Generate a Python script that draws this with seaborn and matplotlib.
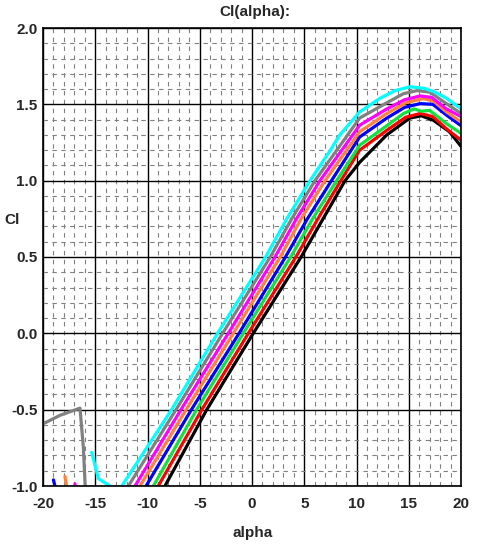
import pandas as pd
import matplotlib
matplotlib.use("Agg")
import matplotlib.pyplot as plt
import seaborn as sns
from matplotlib.ticker import MultipleLocator, FormatStrFormatter

sns.set_style("white")
matplotlib.rcParams['font.family'] = ['Liberation Sans', 'DejaVu Sans']
matplotlib.rcParams['font.weight'] = 'bold'

# curve names, bottom to top
curves = ['black', 'red', 'green', 'blue', 'orange', 'magenta', 'gray', 'cyan']
colors = ['#000000', '#FF0000', '#10E040', '#0000FF', '#FF8040', '#FF00FF', '#808080', '#00FFFF']

black_alpha = [-8.33, -4.33, 0.12, 4.7, 6.8, 8.9, 10.3, 12.9, 15.1, 16.2, 17.35, 18.9, 20.0]
black_cl = [-1.0, -0.5, 0.0, 0.5, 0.75, 1.0, 1.12, 1.30, 1.41, 1.425, 1.396, 1.32, 1.225]

red_alpha = [-8.97, -4.8, -0.35, 4.2, 6.3, 8.5, 10.3, 12.9, 14.7, 16.1, 17.3, 18.6, 20.0]
red_cl = [-1.0, -0.5, 0.0, 0.5, 0.75, 1.0, 1.20, 1.33, 1.415, 1.44, 1.42, 1.34, 1.265]

green_alpha = [-9.44, -5.3, -0.83, 3.7, 5.8, 8.1, 10.3, 12.9, 14.5, 15.5, 16.2, 17.0, 18.6, 20.0]
green_cl = [-1.0, -0.5, 0.0, 0.5, 0.75, 1.0, 1.232, 1.36, 1.44, 1.47, 1.455, 1.46, 1.374, 1.31]

blue_alpha = [-10.14, -5.8, -1.24, 3.2, 5.3, 7.6, 10.3, 12.9, 14.6, 16.1, 17.3, 18.6, 20.0]
blue_cl = [-1.0, -0.5, 0.0, 0.5, 0.75, 1.0, 1.286, 1.41, 1.48, 1.505, 1.50, 1.43, 1.36]

orange_alpha = [-10.72, -6.3, -1.79, 2.7, 4.7, 6.99, 10.3, 12.9, 14.7, 16.4, 17.4, 18.6, 20.0]
orange_cl = [-1.0, -0.5, 0.0, 0.5, 0.75, 1.0, 1.32, 1.44, 1.51, 1.538, 1.52, 1.45, 1.385]

magenta_alpha = [-11.2, -6.8, -2.27, 2.2, 4.25, 6.5, 10.3, 12.9, 14.6, 16.1, 17.2, 18.6, 20.0]
magenta_cl = [-1.0, -0.5, 0.0, 0.5, 0.75, 1.0, 1.363, 1.47, 1.53, 1.555, 1.545, 1.47, 1.42]

gray_alpha = [-11.83, -7.27, -2.81, 1.75, 3.8, 6.03, 10.3, 12.9, 14.5, 15.8, 17.0, 18.6, 20.0]
gray_cl = [-1.0, -0.5, 0.0, 0.5, 0.75, 1.0, 1.41, 1.51, 1.57, 1.59, 1.58, 1.505, 1.44]

cyan_alpha = [-12.46, -7.7, -3.3, 1.3, 3.32, 5.55, 7.5, 8.4, 10.3, 12.25, 13.7, 15.1, 16.5, 17.5, 18.6, 20.0]
cyan_cl = [-1.0, -0.5, 0.0, 0.5, 0.75, 1.0, 1.2, 1.30, 1.45, 1.54, 1.59, 1.615, 1.605, 1.58, 1.54, 1.47]

# short branches at low alpha
cyan_low_alpha = [-15.34, -14.7, -13.6, -13.0]
cyan_low_cl = [-0.78, -0.952, -1.0, -1.06]
gray_low_alpha = [-20.5, -18.37, -16.46, -16.14, -15.95]
gray_low_cl = [-0.61, -0.537, -0.49, -0.745, -1.02]
blue_low_alpha = [-19.0, -18.75]
blue_low_cl = [-0.96, -1.03]
orange_low_alpha = [-17.9, -17.7]
orange_low_cl = [-0.937, -1.02]
magenta_low_alpha = [-16.95, -16.9]
magenta_low_cl = [-0.985, -1.01]

main = {
    'black': (black_alpha, black_cl), 'red': (red_alpha, red_cl),
    'green': (green_alpha, green_cl), 'blue': (blue_alpha, blue_cl),
    'orange': (orange_alpha, orange_cl), 'magenta': (magenta_alpha, magenta_cl),
    'gray': (gray_alpha, gray_cl), 'cyan': (cyan_alpha, cyan_cl),
}
low = {
    'cyan': (cyan_low_alpha, cyan_low_cl), 'gray': (gray_low_alpha, gray_low_cl),
    'blue': (blue_low_alpha, blue_low_cl), 'orange': (orange_low_alpha, orange_low_cl),
    'magenta': (magenta_low_alpha, magenta_low_cl),
}

rows = []
for name, (a, c) in main.items():
    for i in range(len(a)):
        rows.append({'curve': name, 'seg': name + '_main', 'alpha': a[i], 'Cl': c[i]})
for name, (a, c) in low.items():
    for i in range(len(a)):
        rows.append({'curve': name, 'seg': name + '_low', 'alpha': a[i], 'Cl': c[i]})
df = pd.DataFrame(rows)

fig = plt.figure(figsize=(4.8, 5.46), dpi=100)
ax = fig.add_axes([43 / 480, 60 / 546, 418 / 480, 458 / 546])

sns.lineplot(data=df, x='alpha', y='Cl', hue='curve', units='seg', estimator=None,
             sort=False, hue_order=curves, palette=dict(zip(curves, colors)),
             linewidth=2.3, legend=False, ax=ax)

ax.set_xlim(-20, 20)
ax.set_ylim(-1.0, 2.0)
ax.xaxis.set_major_locator(MultipleLocator(5))
ax.xaxis.set_minor_locator(MultipleLocator(1))
ax.yaxis.set_major_locator(MultipleLocator(0.5))
ax.yaxis.set_minor_locator(MultipleLocator(0.1))
ax.yaxis.set_major_formatter(FormatStrFormatter('%.1f'))
ax.xaxis.set_major_formatter(FormatStrFormatter('%d'))

ax.set_axisbelow(True)
ax.grid(which='major', color='black', linewidth=1.0, linestyle='-')
ax.grid(which='minor', color='#808080', linewidth=0.8, linestyle=(0, (4, 4)))
ax.tick_params(which='both', length=0)
ax.tick_params(axis='x', pad=8, labelsize=11)
ax.tick_params(axis='y', pad=4, labelsize=11)
for lab in ax.get_xticklabels() + ax.get_yticklabels():
    lab.set_fontweight('bold')
for sp in ax.spines.values():
    sp.set_color('black')
    sp.set_linewidth(1.2)

ax.set_xlabel('')
ax.set_ylabel('')
fig.text(255 / 480, 1 - 12 / 546, 'Cl(alpha):', ha='center', va='center', fontsize=11, fontweight='bold')
fig.text(12 / 480, 1 - 220 / 546, 'Cl', ha='center', va='center', fontsize=11, fontweight='bold')
fig.text(253 / 480, 1 - 533 / 546, 'alpha', ha='center', va='center', fontsize=11, fontweight='bold')

fig.savefig('out.png', dpi=100)
